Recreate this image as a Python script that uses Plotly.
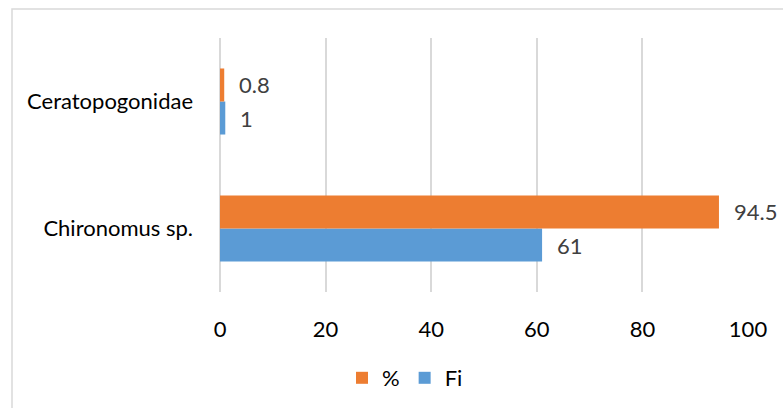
import plotly.graph_objects as go

# Taxa (bottom to top) and the two series per taxon
categories = ["Chironomus sp.", "Ceratopogonidae"]
fi_values = [61, 1]
pct_values = [94.5, 0.8]
x_ticks = [0, 20, 40, 60, 80, 100]

ORANGE = "#ED7D31"
BLUE = "#5B9BD5"
GRID = "#D9D9D9"
FONT = "Lato"
FS = 22

W, H = 783, 408
M_L, M_R, M_T, M_B = 220, 35, 38, 116

fig = go.Figure()
# Fi drawn first so it sits below % within each group
fig.add_trace(go.Bar(y=categories, x=fi_values, orientation="h", name="Fi",
                     marker=dict(color=BLUE, line=dict(width=0)), legendrank=2))
fig.add_trace(go.Bar(y=categories, x=pct_values, orientation="h", name="%",
                     marker=dict(color=ORANGE, line=dict(width=0)), legendrank=1))

# value labels just past the end of each bar
annotations = []
for cat, v in zip(categories, pct_values):
    annotations.append(dict(x=v, y=cat, xref="x", yref="y", text=f"{v:g}",
                            showarrow=False, xanchor="left", yanchor="middle",
                            xshift=13, yshift=17,
                            font=dict(family=FONT, size=FS, color="#404040")))
for cat, v in zip(categories, fi_values):
    annotations.append(dict(x=v, y=cat, xref="x", yref="y", text=f"{v:g}",
                            showarrow=False, xanchor="left", yanchor="middle",
                            xshift=13, yshift=-17,
                            font=dict(family=FONT, size=FS, color="#404040")))

pw = W - M_L - M_R
ph = H - M_T - M_B

fig.update_layout(
    width=W, height=H, autosize=False,
    margin=dict(l=M_L, r=M_R, t=M_T, b=M_B, pad=0),
    paper_bgcolor="white", plot_bgcolor="white",
    barmode="group", bargap=0.48, bargroupgap=0,
    font=dict(family=FONT, size=FS, color="#000000"),
    showlegend=True,
    legend=dict(orientation="h", xref="container", yref="container",
                x=405 / W, y=1 - 378 / H, xanchor="center", yanchor="middle",
                font=dict(family=FONT, size=FS, color="#000000"),
                itemwidth=30, tracegroupgap=0, bgcolor="rgba(0,0,0,0)"),
    annotations=annotations,
    shapes=[dict(type="rect", xref="paper", yref="paper",
                 x0=(12 - M_L) / pw, x1=(795 - M_L) / pw,
                 y0=(H - M_B - 420) / ph, y1=(H - M_B - 9) / ph,
                 line=dict(color=GRID, width=1.5), fillcolor="rgba(0,0,0,0)",
                 layer="below")],
)

fig.update_xaxes(range=[0, 100], tickvals=x_ticks, ticktext=[str(t) for t in x_ticks],
                 showgrid=True, gridcolor=GRID, gridwidth=1.5,
                 zeroline=True, zerolinecolor=GRID, zerolinewidth=1.5,
                 showline=False, ticks="", ticklabelstandoff=22,
                 tickfont=dict(family=FONT, size=FS, color="#000000"), fixedrange=True)
fig.update_yaxes(type="category", categoryorder="array", categoryarray=categories,
                 range=[-0.5, 1.5], showgrid=False, zeroline=False, showline=False,
                 ticks="", ticklabelstandoff=26,
                 tickfont=dict(family=FONT, size=FS, color="#000000"), fixedrange=True)

fig.write_html("out.html")
